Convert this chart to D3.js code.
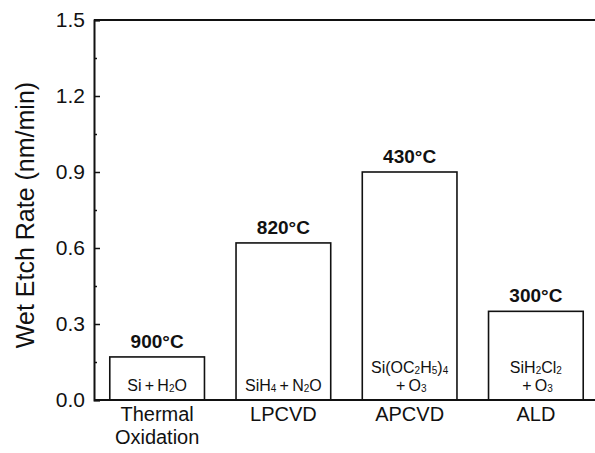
<!DOCTYPE html>
<html>
<head>
<meta charset="utf-8">
<style>
  body { margin: 0; background: #fff; }
  svg { display: block; font-family: "Liberation Sans", Arial, sans-serif; }
</style>
</head>
<body>
<svg width="595" height="453"></svg>
<script src="https://d3js.org/d3.v7.min.js"></script>
<script>

var categories = [["Thermal", "Oxidation"], ["LPCVD"], ["APCVD"], ["ALD"]];
var etchRates = [0.17, 0.62, 0.90, 0.35];
var temps = ["900°C", "820°C", "430°C", "300°C"];
// "_" marks a subscript digit
var formulas = [["Si+H_2O"], ["SiH_4+N_2O"], ["Si(OC_2H_5)_4", "+O_3"], ["SiH_2Cl_2", "+O_3"]];
var majorTicks = [0, 0.3, 0.6, 0.9, 1.2, 1.5];
var minorTicks = [0.15, 0.45, 0.75, 1.05, 1.35];

var svg = d3.select("svg"),
    plotLeft = 94, plotRight = 599, plotTop = 20, plotBottom = 400;

var x = d3.scaleBand()
    .domain(d3.range(etchRates.length))
    .range([plotLeft, plotRight])
    .paddingInner(0.25)
    .paddingOuter(0.125);

var y = d3.scaleLinear().domain([0, 1.5]).range([plotBottom, plotTop]);

// bars
svg.selectAll("rect.bar")
    .data(etchRates)
  .enter().append("rect")
    .attr("class", "bar")
    .attr("x", function(d, i) { return x(i); })
    .attr("y", function(d) { return y(d); })
    .attr("width", x.bandwidth())
    .attr("height", function(d) { return y(0) - y(d); })
    .attr("fill", "#fff")
    .attr("stroke", "#111")
    .attr("stroke-width", 1.6);

// frame lines
svg.append("line").attr("x1", plotLeft).attr("x2", 595).attr("y1", plotTop).attr("y2", plotTop)
    .attr("stroke", "#111").attr("stroke-width", 2);
svg.append("line").attr("x1", plotLeft).attr("x2", 595).attr("y1", plotBottom).attr("y2", plotBottom)
    .attr("stroke", "#111").attr("stroke-width", 2);

// y axis
var yAxis = svg.append("g")
    .attr("transform", "translate(" + plotLeft + ",0)")
    .call(d3.axisLeft(y).tickValues(majorTicks).tickSize(-6).tickPadding(9)
      .tickFormat(d3.format(".1f")));
yAxis.select(".domain").attr("stroke", "#111").attr("stroke-width", 2);
yAxis.selectAll(".tick line").attr("stroke", "#111").attr("stroke-width", 1.5);
yAxis.selectAll(".tick text")
    .attr("font-size", "21px")
    .attr("font-family", "Liberation Sans, Arial, sans-serif")
    .attr("fill", "#111");

svg.append("g")
    .attr("transform", "translate(" + plotLeft + ",0)")
    .call(d3.axisLeft(y).tickValues(minorTicks).tickSize(-3).tickFormat(""))
    .call(function(g) { g.select(".domain").remove(); })
    .selectAll(".tick line").attr("stroke", "#111").attr("stroke-width", 1.5);

// y title
svg.append("text")
    .attr("transform", "translate(34,215) rotate(-90)")
    .attr("text-anchor", "middle")
    .attr("font-size", "25px")
    .attr("fill", "#111")
    .text("Wet Etch Rate (nm/min)");

// category labels
categories.forEach(function(lines, i) {
  var t = svg.append("text")
      .attr("text-anchor", "middle")
      .attr("font-size", "20px")
      .attr("fill", "#111");
  lines.forEach(function(s, k) {
    t.append("tspan")
        .attr("x", x(i) + x.bandwidth() / 2)
        .attr("y", 421 + k * 23)
        .text(s);
  });
});

// temperature labels
svg.selectAll("text.temp")
    .data(etchRates)
  .enter().append("text")
    .attr("class", "temp")
    .attr("x", function(d, i) { return x(i) + x.bandwidth() / 2; })
    .attr("y", function(d) { return y(d) - 9; })
    .attr("text-anchor", "middle")
    .attr("font-size", "19px")
    .attr("font-weight", "bold")
    .attr("fill", "#111")
    .text(function(d, i) { return temps[i]; });

// formula labels inside bars
function addFormula(t, s) {
  var parts = s.split(/(_\d)/);
  var sub = false;
  parts.forEach(function(p) {
    if (!p) return;
    if (p.charAt(0) === "_") {
      t.append("tspan").attr("font-size", "10px").attr("dy", sub ? 0 : 1).text(p.slice(1));
      sub = true;
    } else {
      var txt = p.replace(/\+/g, "\u2009+\u2009");
      t.append("tspan").attr("dy", sub ? -1 : 0).text(txt);
      sub = false;
    }
  });
}

formulas.forEach(function(lines, i) {
  lines.forEach(function(s, k) {
    var t = svg.append("text")
        .attr("x", x(i) + x.bandwidth() / 2)
        .attr("y", 391 - (lines.length - 1 - k) * 18)
        .attr("text-anchor", "middle")
        .attr("font-size", "16px")
        .attr("fill", "#111");
    addFormula(t, s);
  });
});

</script>
</body>
</html>
